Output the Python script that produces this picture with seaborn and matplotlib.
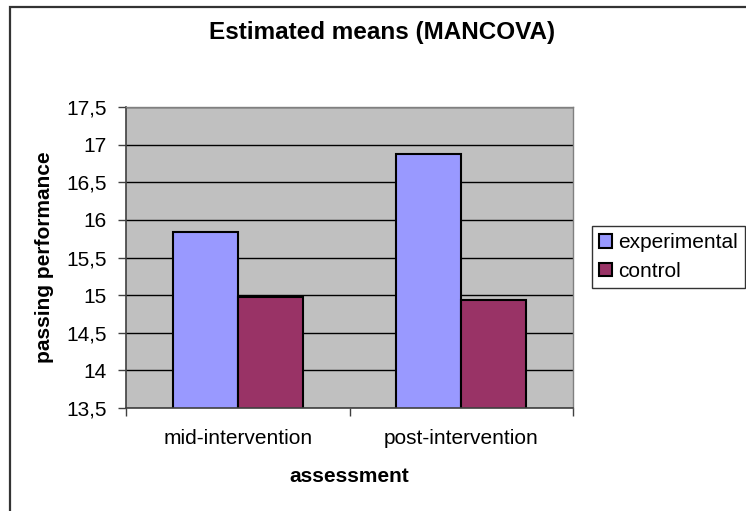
import matplotlib
matplotlib.use("Agg")
import matplotlib.pyplot as plt
import matplotlib.ticker as mticker
from matplotlib.patches import Patch, Rectangle
import pandas as pd
import seaborn as sns

categories = ["mid-intervention", "post-intervention"]
groups = ["experimental", "control"]
experimental = [15.84, 16.87]
control = [14.97, 14.94]
y_ticks = [13.5, 14, 14.5, 15, 15.5, 16, 16.5, 17, 17.5]

colors = {"experimental": "#9999FF", "control": "#993366"}

df = pd.DataFrame(
    {
        "assessment": categories * 2,
        "group": ["experimental"] * len(categories) + ["control"] * len(categories),
        "value": experimental + control,
    }
)

sns.set_theme(style="white")
plt.rcParams["font.family"] = ["Liberation Sans", "DejaVu Sans"]
plt.rcParams.update(
    {
        "text.color": "black",
        "axes.labelcolor": "black",
        "xtick.color": "black",
        "ytick.color": "black",
    }
)

fig = plt.figure(figsize=(7.46, 5.11), dpi=100)
ax = fig.add_axes([126 / 746, 1 - 408 / 511, 447 / 746, 301 / 511])
ax.set_facecolor("#C0C0C0")

sns.barplot(
    data=df,
    x="assessment",
    y="value",
    hue="group",
    hue_order=groups,
    order=categories,
    palette=colors,
    width=0.58,
    edgecolor="black",
    linewidth=1.5,
    saturation=1,
    legend=False,
    ax=ax,
)

ax.set_ylim(13.5, 17.5)
ax.set_xlim(-0.5, 1.5)
ax.set_yticks(y_ticks)
ax.yaxis.set_major_formatter(
    mticker.FuncFormatter(lambda v, p: f"{v:g}".replace(".", ","))
)
ax.yaxis.grid(True, color="black", linewidth=1)
ax.set_axisbelow(True)

ax.set_xticks(range(len(categories)))
ax.set_xticklabels(categories)
ax.set_xticks([-0.5, 0.5, 1.5], minor=True)
ax.tick_params(axis="x", which="major", length=0, pad=15, labelsize=15)
ax.tick_params(axis="x", which="minor", length=6, width=1, color="#404040",
               direction="out", bottom=True)
ax.tick_params(axis="y", length=6, width=1, color="#404040", direction="out",
               left=True, pad=8, labelsize=15)

for side in ["left", "bottom"]:
    ax.spines[side].set_color("#404040")
    ax.spines[side].set_linewidth(1.2)
for side in ["top", "right"]:
    ax.spines[side].set_color("#808080")
    ax.spines[side].set_linewidth(1)

ax.set_xlabel("assessment", fontsize=15, fontweight="bold", labelpad=14)
ax.set_ylabel("passing performance", fontsize=15, fontweight="bold", labelpad=9)

fig.text(382 / 746, 1 - 33 / 511, "Estimated means (MANCOVA)", ha="center",
         va="center", fontsize=17.5, fontweight="bold")

handles = [
    Patch(facecolor=colors[g], edgecolor="black", linewidth=1.5, label=g)
    for g in groups
]
leg = fig.legend(
    handles=handles,
    loc="upper left",
    bbox_to_anchor=(592 / 746, 1 - 226 / 511),
    frameon=True,
    fancybox=False,
    fontsize=15,
    handlelength=0.6,
    handleheight=0.6,
    handletextpad=0.3,
    borderpad=0.35,
    labelspacing=0.45,
    borderaxespad=0,
)
leg.get_frame().set_edgecolor("black")
leg.get_frame().set_linewidth(1)

fig.patches.append(
    Rectangle((10 / 746, -0.1), 1.2, 1 - 7 / 511 + 0.1, transform=fig.transFigure,
              fill=False, edgecolor="#333333", linewidth=1.6)
)

fig.savefig("out.png", dpi=100)
